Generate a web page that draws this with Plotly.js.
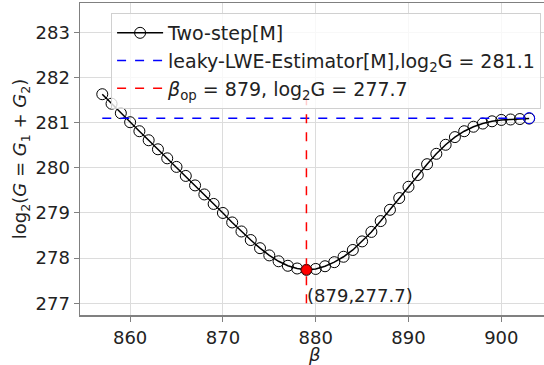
<!DOCTYPE html>
<html>
<head>
<meta charset="utf-8">
<script src="https://cdn.plot.ly/plotly-3.0.1.min.js"></script>
<style>html,body{margin:0;padding:0;background:#fff;}#chart{width:544px;height:365px;}</style>
</head>
<body>
<div id="chart"></div>
<script>
var betas = [857,858,859,860,861,862,863,864,865,866,867,868,869,870,871,872,873,874,875,876,877,878,879,880,881,882,883,884,885,886,887,888,889,890,891,892,893,894,895,896,897,898,899,900,901,902,903];
var log2G = [281.63,281.42,281.21,281.01,280.81,280.61,280.41,280.21,280.02,279.82,279.61,279.41,279.20,279.00,278.79,278.59,278.40,278.22,278.06,277.93,277.83,277.77,277.74,277.76,277.82,277.91,278.03,278.18,278.37,278.58,278.82,279.07,279.33,279.58,279.84,280.08,280.31,280.51,280.68,280.81,280.91,280.98,281.03,281.06,281.07,281.08,281.09];
var estimatorBeta = 903;
var estimatorLog2G = 281.1;
var optBeta = 879;
var optLog2G = 277.7;
var optLog2GExact = 277.74;
var vlineRange = [277.0, 281.63];
var xTitle = '<i>β</i>';

var font = "DejaVu Sans, Liberation Sans, sans-serif";

var traces = [
  {
    x: betas, y: log2G, mode: 'lines+markers', name: 'Two-step[M]',
    line: {color: 'black', width: 1.5},
    marker: {symbol: 'circle-open', size: 11, color: 'black', line: {width: 1}}
  },
  {
    x: [betas[0], estimatorBeta], y: [estimatorLog2G, estimatorLog2G], mode: 'lines',
    name: 'leaky-LWE-Estimator[M],log<sub>2</sub>G = ' + estimatorLog2G.toFixed(1),
    line: {color: 'blue', width: 1.5, dash: 'dash'}
  },
  {
    x: [optBeta, optBeta], y: vlineRange, mode: 'lines',
    name: '<i>β</i><sub>op</sub> = ' + optBeta + ', log<sub>2</sub>G = ' + optLog2G.toFixed(1),
    line: {color: 'red', width: 1.5, dash: 'dash'}
  },
  {
    x: [estimatorBeta], y: [estimatorLog2G], mode: 'markers', showlegend: false,
    marker: {symbol: 'circle-open', size: 11, color: 'blue', line: {width: 1}}
  },
  {
    x: [optBeta], y: [optLog2GExact], mode: 'markers', showlegend: false,
    marker: {symbol: 'circle', size: 10, color: 'red', line: {width: 1, color: '#8b0000'}}
  }
];

var layout = {
  width: 544, height: 365,
  margin: {l: 80, r: 0, t: 3, b: 50},
  paper_bgcolor: 'white', plot_bgcolor: 'white',
  font: {family: font, size: 18, color: '#222'},
  showlegend: true,
  legend: {
    x: 0.067, y: 0.968, xanchor: 'left', yanchor: 'top',
    bgcolor: 'rgba(255,255,255,0.8)', bordercolor: '#d0d0d0', borderwidth: 1,
    font: {family: font, size: 19, color: '#222'},
    itemwidth: 46,
    tracegroupgap: 0
  },
  xaxis: {
    range: [854.6, 904.6], tickvals: [860,870,880,890,900], ticktext: ['860','870','880','890','900'],
    showgrid: true, gridcolor: '#dcdcdc', gridwidth: 1,
    showline: true, linecolor: '#808080', linewidth: 1.5, mirror: true,
    ticks: 'outside', ticklen: 5, tickcolor: '#808080', zeroline: false,
    ticklabelstandoff: 1,
    tickfont: {family: font, size: 18, color: '#222'}
  },
  yaxis: {
    range: [276.74, 283.65], tickvals: [277,278,279,280,281,282,283], ticktext: ['277','278','279','280','281','282','283'],
    showgrid: true, gridcolor: '#dcdcdc', gridwidth: 1,
    showline: true, linecolor: '#808080', linewidth: 1.5, mirror: false,
    ticks: 'outside', ticklen: 5, tickcolor: '#808080', zeroline: false,
    tickfont: {family: font, size: 18, color: '#222'},
    title: {text: 'log<sub>2</sub>(<i>G</i> = <i>G</i><sub>1</sub> + <i>G</i><sub>2</sub>)', font: {family: font, size: 18, color: '#222'}, standoff: 4}
  },
  annotations: [{
    x: optBeta, y: 277.18, xref: 'x', yref: 'y', xanchor: 'left', yanchor: 'middle',
    text: '(' + optBeta + ',' + optLog2G.toFixed(1) + ')', showarrow: false, xshift: -1,
    font: {family: font, size: 18, color: '#222'}
  }, {
    x: 0.505, y: -0.125, xref: 'paper', yref: 'paper', xanchor: 'center', yanchor: 'middle',
    text: xTitle, showarrow: false,
    font: {family: font, size: 18, color: '#222'}
  }]
};

Plotly.newPlot('chart', traces, layout, {displayModeBar: false, staticPlot: true});
</script>
</body>
</html>
